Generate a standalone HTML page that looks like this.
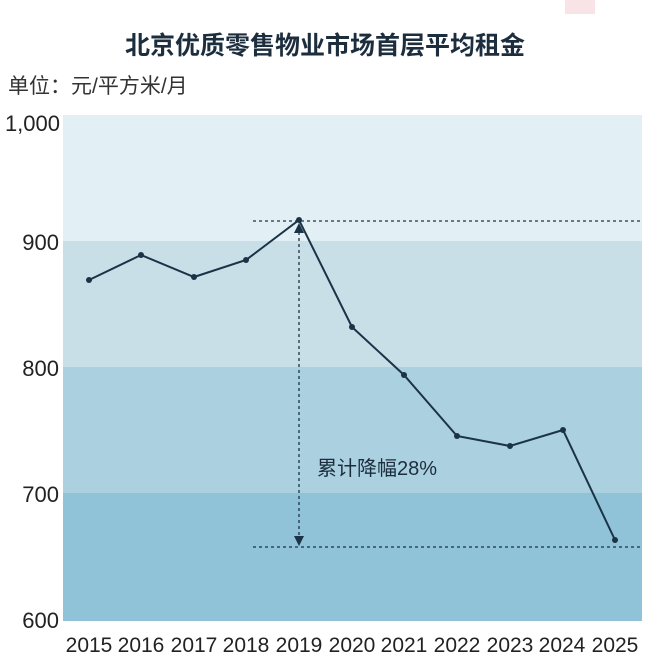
<!DOCTYPE html>
<html><head><meta charset="utf-8"><style>
body{margin:0;background:#fff;width:650px;height:663px;overflow:hidden}
svg text{font-family:"Liberation Sans","Noto Sans CJK SC",sans-serif}
</style></head><body>
<svg width="650" height="663" viewBox="0 0 650 663" xmlns="http://www.w3.org/2000/svg">
<rect x="565" y="0" width="30" height="14" fill="#f8e4e6"/>
<text x="325" y="54" text-anchor="middle" font-size="25" font-weight="bold" fill="#1c2e3e">北京优质零售物业市场首层平均租金</text>
<text x="8" y="93" font-size="21" fill="#333">单位：元/平方米/月</text>
<rect x="63" y="115" width="579" height="126" fill="#e2eff4"/>
<rect x="63" y="241" width="579" height="126" fill="#c9dfe8"/>
<rect x="63" y="367" width="579" height="126" fill="#abd0e0"/>
<rect x="63" y="493" width="579" height="128" fill="#90c3d8"/>
<g font-size="22" fill="#222" text-anchor="end">
<text x="60" y="131">1,000</text><text x="59" y="250">900</text><text x="59" y="376">800</text><text x="59" y="502">700</text><text x="59" y="628">600</text>
</g>
<g font-size="21" fill="#222" text-anchor="middle">
<text x="89" y="652">2015</text><text x="141" y="652">2016</text><text x="194" y="652">2017</text><text x="246" y="652">2018</text><text x="299" y="652">2019</text><text x="352" y="652">2020</text><text x="404" y="652">2021</text><text x="457" y="652">2022</text><text x="510" y="652">2023</text><text x="562" y="652">2024</text><text x="615" y="652">2025</text>
</g>
<g stroke="#1b3346" stroke-width="1.3" stroke-dasharray="3,3" fill="none">
<line x1="253" y1="221" x2="642" y2="221"/>
<line x1="253" y1="547" x2="642" y2="547"/>
<line x1="299" y1="232" x2="299" y2="538"/>
</g>
<polygon points="299,223 294,233 304,233" fill="#1b3346"/>
<polygon points="299,546 294,536 304,536" fill="#1b3346"/>
<polyline points="89,280 141,255 194,277 246,260 299,220 352,327 404,375 457,436 510,446 563,430 615,540" fill="none" stroke="#1b3346" stroke-width="2"/>
<g fill="#1b3346">
<circle cx="89" cy="280" r="3"/><circle cx="141" cy="255" r="3"/><circle cx="194" cy="277" r="3"/><circle cx="246" cy="260" r="3"/><circle cx="299" cy="220" r="3"/><circle cx="352" cy="327" r="3"/><circle cx="404" cy="375" r="3"/><circle cx="457" cy="436" r="3"/><circle cx="510" cy="446" r="3"/><circle cx="563" cy="430" r="3"/><circle cx="615" cy="540" r="3"/>
</g>
<text x="317" y="475" font-size="20" fill="#1c2e3e">累计降幅28%</text>
</svg>
</body></html>
